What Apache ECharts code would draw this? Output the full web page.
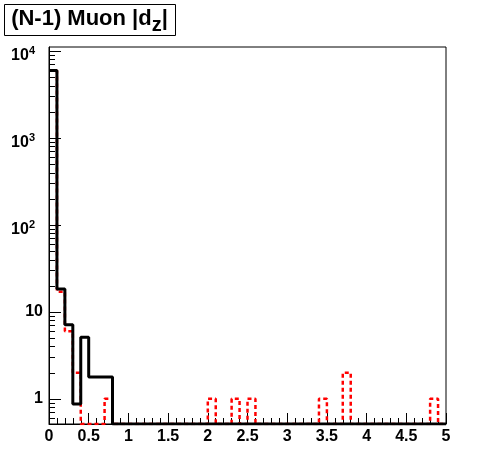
<!DOCTYPE html>
<html>
<head>
<meta charset="utf-8">
<script src="https://cdn.jsdelivr.net/npm/echarts@6/dist/echarts.min.js"></script>
<style>html,body{margin:0;padding:0;background:#fff;}#c{width:496px;height:472px;}</style>
</head>
<body>
<div id="c"></div>
<script>
// Bin edges: 50 bins of width 0.1 from 0 to 5
const binLow = [0.0,0.1,0.2,0.3,0.4,0.5,0.6,0.7,0.8,0.9,
  1.0,1.1,1.2,1.3,1.4,1.5,1.6,1.7,1.8,1.9,
  2.0,2.1,2.2,2.3,2.4,2.5,2.6,2.7,2.8,2.9,
  3.0,3.1,3.2,3.3,3.4,3.5,3.6,3.7,3.8,3.9,
  4.0,4.1,4.2,4.3,4.4,4.5,4.6,4.7,4.8,4.9];
const xEnd = 5.0;
// Black solid histogram
const blackVals = [5960,18.3,7.1,0.87,5.1,1.78,1.78,1.78,0,0,
  0,0,0,0,0,0,0,0,0,0,
  0,0,0,0,0,0,0,0,0,0,
  0,0,0,0,0,0,0,0,0,0,
  0,0,0,0,0,0,0,0,0,0];
// Red dashed histogram
const redVals = [5960,17,6,2,0,0,0,1,0,0,
  0,0,0,0,0,0,0,0,0,0,
  1,0,0,1,0,1,0,0,0,0,
  0,0,0,0,1,0,0,2,0,0,
  0,0,0,0,0,0,0,0,1,0];
const xTickLabels = ['0','0.5','1','1.5','2','2.5','3','3.5','4','4.5','5'];
const yMin = 0.514, yMax = 11100;
const titleMain = '(N-1) Muon |d', titleSub = 'z', titleEnd = '|';

function stepData(vals){
  const d = [];
  for (let i = 0; i < vals.length; i++) d.push([binLow[i], vals[i] > 0 ? vals[i] : yMin]);
  const last = vals[vals.length-1];
  d.push([xEnd, last > 0 ? last : yMin]);
  return d;
}
// log-axis tick values (decades & minor 2..9)
const yTicks = [];
for (let k = -1; k <= 4; k++) {
  for (let m = 1; m <= 9; m++) {
    const v = m * Math.pow(10, k);
    if (v > yMin && v < yMax) yTicks.push([0, v, m === 1 ? 12 : 6]);
  }
}
const FONT = 'Liberation Sans, Arial, sans-serif';
// measure title pieces
const mctx = document.createElement('canvas').getContext('2d');
function tw(t, fs){ mctx.font = 'bold ' + fs + 'px ' + FONT; return mctx.measureText(t).width; }
const w1 = tw(titleMain, 22), w2 = tw(titleSub, 20), w3 = tw(titleEnd, 22);
const boxCx = 89.5;
const tx0 = boxCx - (w1 + w2 + w3) / 2;

const chart = echarts.init(document.getElementById('c'), null, {renderer:'canvas'});
chart.setOption({
  backgroundColor: '#fff',
  animation: false,
  grid: {left: 49, right: 50, top: 47, bottom: 48, show: true, borderColor: '#000', borderWidth: 1, backgroundColor: '#fff'},
  xAxis: {
    type: 'value', min: 0, max: 5, interval: 0.5,
    axisLine: {show: true, onZero: false, lineStyle: {color: '#000', width: 1}},
    axisTick: {show: true, inside: true, length: 11, lineStyle: {color: '#000', width: 1}},
    minorTick: {show: true, splitNumber: 5, length: 6, lineStyle: {color: '#000', width: 1}},
    splitLine: {show: false},
    axisLabel: {
      margin: 5, color: '#000', fontSize: 16, fontWeight: 'bold', fontFamily: FONT,
      showMinLabel: true, showMaxLabel: true,
      formatter: function(v){ const i = Math.round(v/0.5); return xTickLabels[i] !== undefined ? xTickLabels[i] : ''; }
    }
  },
  yAxis: {
    type: 'log', logBase: 10, min: yMin, max: yMax,
    axisLine: {show: true, lineStyle: {color: '#000', width: 1}},
    axisTick: {show: false},
    splitLine: {show: false},
    axisLabel: {
      margin: 6, color: '#000', fontFamily: FONT,
      showMinLabel: false, showMaxLabel: false,
      formatter: function(v){
        const e = Math.log10(v), r = Math.round(e);
        if (Math.abs(e - r) > 1e-6) return '';
        if (r === 0) return '{b|1}';
        if (r === 1) return '{b|10}';
        return '{b2|10}{s|' + r + '}';
      },
      rich: {
        b: {fontSize: 16, fontWeight: 'bold', lineHeight: 16, fontFamily: FONT, color: '#000'},
        b2: {fontSize: 16, fontWeight: 'bold', lineHeight: 16, verticalAlign: 'bottom', fontFamily: FONT, color: '#000'},
        s: {fontSize: 11, fontWeight: 'bold', lineHeight: 25, verticalAlign: 'middle', padding: [0, 8, 0, 0], fontFamily: FONT, color: '#000'}
      }
    }
  },
  graphic: [
    {type: 'rect', left: 4, top: 4, z: 10, shape: {x: 0, y: 0, width: 171, height: 31},
     style: {fill: '#fff', stroke: '#000', lineWidth: 1}},
    {type: 'text', x: tx0, y: 19, z: 11,
     style: {text: titleMain, align: 'left', verticalAlign: 'middle',
             font: 'bold 22px ' + FONT, fill: '#000'}},
    {type: 'text', x: tx0 + w1, y: 25, z: 11,
     style: {text: titleSub, align: 'left', verticalAlign: 'middle',
             font: 'bold 20px ' + FONT, fill: '#000'}},
    {type: 'text', x: tx0 + w1 + w2, y: 19, z: 11,
     style: {text: titleEnd, align: 'left', verticalAlign: 'middle',
             font: 'bold 22px ' + FONT, fill: '#000'}}
  ],
  series: [
    {type: 'line', name: 'red', step: 'end', data: stepData(redVals), showSymbol: false, symbol: 'none',
     lineStyle: {color: '#ff0000', width: 2.5, type: [4, 3]}, z: 2},
    {type: 'line', name: 'black', step: 'end', data: stepData(blackVals), showSymbol: false, symbol: 'none',
     lineStyle: {color: '#000', width: 3}, z: 3},
    {type: 'custom', name: 'yticks', silent: true, clip: false, z: 4,
     data: yTicks,
     encode: {x: 0, y: 1},
     renderItem: function(params, api){
       const p = api.coord([api.value(0), api.value(1)]);
       const y = Math.round(p[1]) + 0.5;
       const len = api.value(2);
       return {type: 'line', shape: {x1: p[0], y1: y, x2: p[0] + len, y2: y},
               style: {stroke: '#000', lineWidth: 1}};
     }}
  ]
});
</script>
</body>
</html>
